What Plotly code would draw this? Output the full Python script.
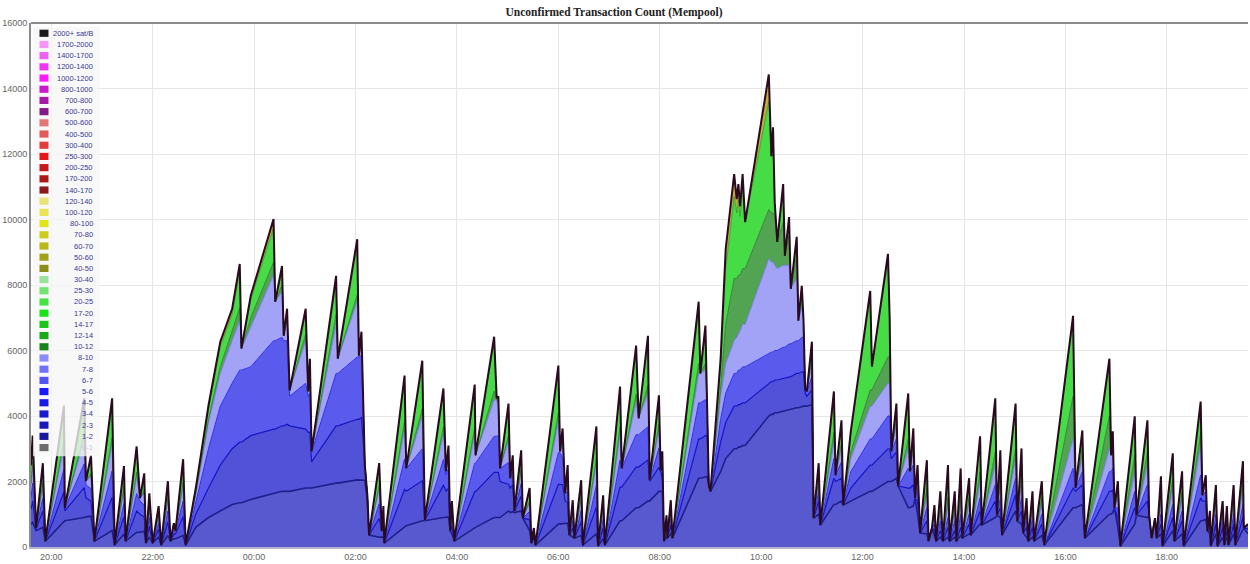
import plotly.graph_objects as go
from datetime import datetime, timedelta

# ---------------- data ----------------
# clock times of the samples (one day window, rolls over midnight)
T = [
    "19:36","19:38","19:42","19:50","19:53","20:15","20:16","20:39","20:41","20:47","20:51",
    "21:12","21:15","21:26","21:28","21:41","21:45","21:50","21:52","21:56","22:00","22:07","22:10","22:18","22:21","22:25","22:27","22:36","22:39",
    "22:51","23:06","23:20","23:34","23:43","23:45","23:56","00:23","00:25","00:33","00:35","00:39","00:42","01:01","01:04","01:06","01:08","01:37","01:39","02:02","02:04","02:07","02:11","02:14","02:16",
    "02:28","02:31","02:33","02:34","02:58","03:00","03:19","03:22","03:44","03:47","03:50","03:52","03:54","03:57",
    "04:21","04:22","04:44","04:47","04:49","04:51","05:01","05:03","05:06","05:08","05:16","05:18","05:26","05:28","05:31","05:33",
    "06:00","06:02","06:05","06:08","06:11","06:13","06:17","06:19","06:27","06:29","06:45","06:47","06:53","06:55",
    "07:13","07:15","07:32","07:35","07:46","07:48","07:59","08:01","08:03","08:05","08:08","08:09","08:13","08:15",
    "08:46","08:48","08:54","08:56","08:58","09:00","09:12","09:18","09:28","09:31","09:33","09:35","09:38","09:41","10:09","10:12","10:14","10:16","10:19","10:26","10:28","10:33","10:35","10:42","10:44","10:48","10:50","10:52","10:54","11:00","11:02",
    "11:08","11:10","11:26","11:28","11:35","11:37",
    "11:46","12:09","12:11","12:30","12:32","12:34","12:40","12:42","12:54","12:56","13:00","13:02","13:05","13:08",
    "13:16","13:18","13:22","13:25","13:27","13:32","13:35","13:41","13:43","13:49","13:51","13:56","13:58","14:06","14:08","14:19","14:21","14:37","14:39","14:43","14:45","15:01","15:03","15:08","15:10","15:14","15:16","15:21","15:23","15:32","15:35",
    "16:09","16:12","16:20","16:23","16:52","16:54","16:56","16:58","17:02","17:05",
    "17:22","17:24","17:37","17:39","17:42","17:46","17:48","17:53","17:55","18:07","18:09","18:18","18:20","18:40","18:42","18:46","18:48","18:51","18:52","18:58","19:00","19:06","19:08","19:11","19:13","19:19","19:21","19:30","19:31","19:36",
]

# cumulative transaction counts (top of each fee band)
TOTAL = [
    2500,3400,580,2560,180,4320,1190,4540,2010,2800,180,
    4540,60,2470,180,3070,1490,2250,120,1640,120,1250,60,2010,180,730,490,2680,60,
    1800,4320,6270,7275,8640,6060,7670,10015,7490,8580,6450,7275,4780,7275,4750,5750,2920,8280,5750,9400,5840,6575,2500,1580,365,
    2560,490,1250,120,5235,2400,5690,820,4840,2310,3100,490,1400,180,
    4960,2800,6420,4540,4600,2400,4380,2100,2800,1100,2950,880,1800,120,580,60,
    5540,2920,3620,1640,2500,365,1430,270,2040,60,3680,30,1580,60,
    4900,2400,6150,3930,6450,2040,4630,2340,2920,180,970,270,1430,270,
    7490,5300,6760,4320,1890,1700,5750,9100,11385,10620,11080,10410,11385,9920,14430,11930,12815,10530,9315,11080,8890,10075,7885,9470,6910,7975,6970,4840,4750,6270,880,
    2560,670,4750,2190,3870,1280,
    3530,7820,5510,8950,7000,2920,4380,1860,4690,2310,3620,1490,2500,430,
    2650,180,580,1280,180,1700,180,2500,180,1700,180,2400,270,2100,365,3380,670,4540,970,2950,365,4380,790,3010,430,1490,180,1700,180,2010,60,
    7060,1800,3560,270,5750,2800,3530,1190,2010,30,
    3990,970,3870,970,270,880,270,2160,30,2860,180,2310,30,4440,1580,2190,490,1100,30,1890,30,1400,60,1250,60,1890,60,2620,580,700,
]

# top of the 20-25 sat/B band (above it: 40-50 sat/B)
TOP = [
    2470,3350,580,2520,180,4250,1190,4450,2010,2760,180,
    4450,60,2420,180,3010,1490,2210,120,1610,120,1230,60,1970,180,730,490,2630,60,
    1780,4200,6100,7100,8400,6060,7550,9750,7490,8450,6450,7200,4780,7150,4750,5700,2920,8100,5750,9200,5840,6500,2500,1580,365,
    2510,490,1230,120,5130,2400,5580,820,4750,2310,3060,490,1380,180,
    4860,2800,6300,4540,4580,2400,4300,2100,2780,1100,2900,880,1770,120,580,60,
    5430,2920,3580,1640,2470,365,1410,270,2000,60,3610,30,1550,60,
    4800,2400,6030,3930,6330,2040,4560,2340,2900,180,960,270,1410,270,
    7250,5300,6600,4320,1890,1700,5550,8500,10700,10200,10600,10100,10900,9920,13600,11930,12500,10530,9315,10900,8890,9950,7885,9350,6910,7900,6970,4840,4750,6200,880,
    2500,670,4650,2190,3800,1280,
    3450,7650,5510,8750,7000,2920,4300,1860,4600,2310,3550,1490,2450,430,
    2600,180,580,1250,180,1680,180,2450,180,1680,180,2350,270,2050,365,3300,670,4450,970,2900,365,4300,790,2950,430,1470,180,1680,180,1980,60,
    6950,1800,3500,270,5650,2800,3480,1190,1980,30,
    3900,970,3800,970,270,880,270,2100,30,2800,180,2250,30,4350,1580,2170,490,1090,30,1850,30,1380,60,1230,60,1860,60,2580,580,700,
]

# top of the 10-12 sat/B band
G = [
    1950,2600,580,1970,180,3260,1190,3450,2010,2240,180,
    3330,60,1850,180,2280,1490,1720,120,1240,120,970,60,1510,180,730,490,1980,60,
    1650,3900,5500,6600,7300,6060,7000,8700,7490,8000,6450,7000,4780,6500,4750,5400,2920,7100,5750,7700,5840,6300,2500,1580,365,
    1880,490,970,120,3840,2400,4220,820,3660,2310,2800,490,1100,180,
    3650,2800,4760,4540,4400,2400,3400,2100,2620,1100,2400,880,1410,120,580,60,
    4090,2920,3250,1640,2100,365,1090,270,1530,60,2700,30,1180,60,
    3670,2400,4670,3930,4940,2040,3750,2340,2720,180,770,270,1120,270,
    5600,5300,5600,4320,1890,1700,4900,6800,8200,8200,8300,8300,8500,8500,10300,10200,10200,10100,9315,9900,8890,9500,7885,8900,6910,7700,6970,4840,4750,5800,880,
    2100,670,3500,2190,3200,1280,
    2900,4800,4800,5800,5800,2920,3900,1860,3300,2310,3100,1490,2250,430,
    1800,180,580,1000,180,1200,180,1500,180,1200,180,1600,270,1500,365,2300,670,2900,970,2100,365,3000,790,2200,430,1200,180,1300,180,1500,60,
    4600,1800,3000,270,4000,2800,3200,1190,1700,30,
    2800,970,2900,970,270,880,270,1600,30,2100,180,1700,30,3500,1580,2100,490,1050,30,1500,30,1200,60,1100,60,1500,60,2100,580,700,
]

# top of the 8-10 sat/B band
LB = [
    1850,2450,580,1870,180,3090,1190,3270,2010,2150,180,
    3130,60,1750,180,2150,1490,1630,120,1170,120,920,60,1430,180,730,490,1860,60,
    1600,3800,5300,6300,6900,6060,6700,8300,7490,7800,6450,6900,4780,6300,4750,5300,2920,6800,5750,7500,5840,6200,2500,1580,365,
    1770,490,920,120,3610,2400,3980,820,3460,2310,2700,490,1050,180,
    3430,2800,4490,4490,4300,2400,3230,2100,2550,1100,2300,880,1350,120,580,60,
    3850,2920,3100,1640,2000,365,1030,270,1450,60,2530,30,1110,60,
    3470,2400,4420,3930,4680,2040,3600,2340,2650,180,740,270,1070,270,
    5300,5300,5400,4320,1890,1700,4600,5600,6300,6400,6500,6600,6800,6800,8800,8700,8700,8600,8500,8600,8600,8600,7885,8200,6910,7300,6970,4840,4750,5600,880,
    2000,670,3200,2190,3000,1280,
    2700,4300,4300,5000,5000,2920,3700,1860,3000,2310,2900,1490,2100,430,
    1600,180,580,900,180,1100,180,1300,180,1100,180,1400,270,1300,365,2000,670,2500,970,1900,365,2700,790,2000,430,1100,180,1200,180,1300,60,
    3300,1800,2700,270,3000,2800,2900,1190,1500,30,
    2300,970,2500,970,270,880,270,1400,30,1800,180,1500,30,3100,1580,2000,490,1000,30,1300,30,1100,60,1000,60,1300,60,1800,580,700,
]

# top of the 7-8 sat/B band
M2 = [
    1500,1950,580,1480,180,2380,1190,2540,1900,1780,180,
    2320,60,1330,180,1630,1400,1280,120,900,120,730,60,1100,180,600,490,1400,60,
    1350,3000,4300,5000,5400,5400,5500,6300,6300,6400,6300,6300,4600,5000,4600,4700,2900,5300,5300,5800,5800,5850,2500,1580,365,
    1320,490,730,120,2690,2400,3000,820,2670,2200,2400,490,850,180,
    2560,2560,3380,3380,3400,2400,2580,2100,2300,1100,1930,880,1090,120,580,60,
    2880,2880,2700,1640,1700,365,810,270,1110,60,1880,30,850,60,
    2650,2400,3430,3430,3670,2040,3020,2340,2400,180,600,270,860,270,
    4400,4400,4500,4320,1890,1700,3900,4700,5300,5300,5400,5400,5500,5500,5900,5950,5950,6000,6000,6100,6100,6200,6200,6300,6300,6400,6400,4840,4750,5200,880,
    1700,670,2700,2190,2600,1280,
    2300,3300,3300,4000,4000,2920,3300,1860,2400,2310,2500,1490,1800,430,
    1200,180,580,700,180,800,180,900,180,800,180,1000,270,1000,365,1500,670,1900,970,1500,365,2100,790,1500,430,900,180,900,180,1000,60,
    2400,1800,2300,270,2300,2300,2400,1190,1200,30,
    1700,970,1900,970,270,880,270,1000,30,1300,180,1100,30,2200,1580,1700,490,900,30,1000,30,900,60,800,60,1000,60,1300,580,650,
]

# top of the 3-4 sat/B band
M1 = [
    1150,1400,560,1100,180,1680,1100,1810,1500,1400,180,
    1510,60,920,180,1100,1000,920,120,640,120,540,60,770,180,400,400,930,60,
    1000,1800,2500,3000,3200,3200,3400,3600,3600,3700,3700,3750,3700,3600,3500,3500,2600,3700,3700,3900,3900,3950,2400,1500,365,
    870,490,540,120,1760,1700,2020,820,1890,1700,1800,490,650,180,
    1690,1690,2280,2280,2280,2000,1920,1800,1900,1100,1560,880,830,120,450,60,
    1910,1910,1900,1400,1350,365,580,270,770,60,1220,30,580,60,
    1830,1830,2440,2440,2660,2000,2430,2300,2100,180,470,270,660,270,
    3300,3300,3400,3400,1890,1700,3200,3800,4300,4300,4350,4350,4400,4400,5000,5050,5050,5100,5100,5150,5150,5200,5200,5300,5300,5350,5350,4700,4600,4800,880,
    1400,670,2100,2000,2100,1280,
    1800,2500,2500,3000,3000,2700,2900,1860,1800,1800,1900,1490,1400,430,
    800,180,580,500,180,500,180,600,180,500,180,600,270,700,365,1100,670,1400,970,1200,365,1600,790,1100,430,600,180,600,180,700,60,
    1800,1700,1900,270,1700,1700,1750,1190,900,30,
    1200,970,1400,970,270,880,270,700,30,900,180,800,30,1500,1400,1400,490,700,30,700,30,600,60,500,60,700,60,900,580,550,
]

# top of the 1-2 sat/B band
BASE = [
    700,750,500,600,180,800,800,900,920,940,180,
    500,60,400,180,450,450,480,120,300,120,300,60,350,180,250,250,350,60,
    600,900,1100,1300,1350,1350,1450,1650,1650,1700,1700,1700,1700,1800,1800,1800,1800,1950,1950,2050,2050,2060,2040,1400,365,
    300,300,300,120,600,650,800,800,900,900,920,490,400,180,
    600,600,900,900,900,900,1100,1050,1080,1050,1100,880,500,120,300,60,
    700,700,720,720,730,365,300,270,350,60,400,30,250,60,
    800,800,1200,1200,1400,1400,1700,1700,1700,180,300,270,400,270,
    2100,2100,2150,2150,1890,1700,2300,2700,3000,3000,3050,3050,3100,3100,4000,4050,4050,4100,4100,4150,4150,4200,4200,4250,4250,4300,4300,4300,4300,4350,880,
    1000,670,1300,1300,1400,1280,
    1400,1700,1700,2000,2000,2000,2100,1860,1200,1200,1250,1490,1000,430,
    400,180,580,300,180,300,180,300,180,300,180,350,270,400,365,700,670,900,970,900,365,1100,790,700,430,300,180,300,180,350,60,
    1200,1200,1300,270,1000,1000,1050,1190,600,30,
    700,970,900,970,270,880,270,400,30,500,180,400,30,800,800,850,490,400,30,400,30,300,60,300,60,400,60,500,580,400,
]

LEG_LABELS = ["2000+ sat/B","1700-2000","1400-1700","1200-1400","1000-1200","800-1000",
              "700-800","600-700","500-600","400-500","300-400","250-300","200-250",
              "170-200","140-170","120-140","100-120","80-100","70-80","60-70","50-60",
              "40-50","30-40","25-30","20-25","17-20","14-17","12-14","10-12","8-10",
              "7-8","6-7","5-6","4-5","3-4","2-3","1-2","0-1"]
LEG_COLORS = ["#000000","#f58cf5","#f050f0","#f020f0","#ff00ff","#c800c8",
              "#a000a0","#780078","#e06868","#e04848","#e02828","#e00000","#c00000",
              "#a00000","#800000","#e8e068","#e8e040","#e0e000","#c8c800","#b0b000","#989800",
              "#808000","#90e090","#60e060","#30e030","#00e000","#00c000","#00a000","#007800","#8080ff",
              "#6060ff","#4040f0","#0000ff","#0000e0","#0000c8","#0000b0","#000090","#555555"]

# ---------------- build figure ----------------
n = len(T)
for arr in (TOTAL, TOP, G, LB, M2, M1, BASE):
    assert len(arr) == n, len(arr)


def to_datetimes(hhmm, start="2017-12-07"):
    day = datetime.strptime(start, "%Y-%m-%d")
    out, prev = [], -1
    for s in hhmm:
        h, m = map(int, s.split(":"))
        mins = h * 60 + m
        if mins < prev:
            day += timedelta(days=1)
        prev = mins
        out.append(day + timedelta(minutes=mins))
    return out


X = to_datetimes(T)
x0 = datetime(2017, 12, 7, 19, 36)
x1 = datetime(2017, 12, 8, 19, 36)

layers = [
    # name, values, fill colour, line colour, line width
    ("1-2", BASE, "#5959cf", "#1e1e8c", 1.6),
    ("3-4", M1, "#5252d8", "#1414c4", 1.2),
    ("7-8", M2, "#5a5aec", "#2c2cf2", 1.0),
    ("8-10", LB, "#a2a2f6", "#7474f4", 0.8),
    ("10-12", G, "#52a452", "#2e702e", 0.8),
    ("20-25", TOP, "#46dc46", "#2c9a2c", 0.8),
    ("40-50", TOTAL, "#c8a838", "#2a0a1e", 2.0),
]

fig = go.Figure()
for i, (name, vals, fc, lc, lw) in enumerate(layers):
    fig.add_trace(go.Scatter(
        x=X, y=vals, name=name, mode="lines",
        fill="tozeroy" if i == 0 else "tonexty",
        fillcolor=fc, line=dict(color=lc, width=lw),
        hoverinfo="skip", showlegend=False,
    ))

# plot area in pixels
PL, PR, PT, PB = 30, 1248, 23, 549


def px_x(x):
    return (x - PL) / (PR - PL)


def px_y(y):
    return (PB - y) / (PB - PT)


shapes = []
annotations = []
# legend background
shapes.append(dict(type="rect", xref="paper", yref="paper", layer="above",
                   x0=px_x(32), x1=px_x(99), y0=px_y(458), y1=px_y(27),
                   fillcolor="rgba(246,246,246,0.78)", line=dict(width=0)))
for i, (lab, col) in enumerate(zip(LEG_LABELS, LEG_COLORS)):
    yc = 33.3 + i * 11.24
    hidden = lab == "0-1"
    shapes.append(dict(type="rect", xref="paper", yref="paper", layer="above",
                       x0=px_x(38.5), x1=px_x(47.5), y0=px_y(yc + 3.6), y1=px_y(yc - 3.6),
                       fillcolor=col, line=dict(width=0),
                       opacity=0.9 if not hidden else 0.85))
    annotations.append(dict(xref="paper", yref="paper", x=px_x(94), y=px_y(yc),
                            text=lab, showarrow=False, xanchor="right", yanchor="middle",
                            font=dict(family="Liberation Sans, Arial", size=7.5,
                                      color="#c4c4d4" if hidden else "#3a3a92")))
# heavy top border
shapes.append(dict(type="line", xref="paper", yref="paper", layer="above",
                   x0=0, x1=1, y0=1, y1=1, line=dict(color="#8c8c8c", width=2)))

fig.update_layout(
    width=1250, height=564,
    margin=dict(l=PL, r=1250 - PR, t=PT, b=564 - PB),
    paper_bgcolor="white", plot_bgcolor="white",
    hovermode=False,
    title=dict(text="<b>Unconfirmed Transaction Count (Mempool)</b>",
               x=614 / 1250, xref="container", xanchor="center",
               y=1 - 12 / 564, yref="container", yanchor="middle",
               font=dict(family="Liberation Serif, Times New Roman", size=11.5, color="#222222")),
    shapes=shapes, annotations=annotations,
    xaxis=dict(type="date", range=[x0, x1], tickformat="%H:%M",
               dtick=2 * 3600 * 1000, tick0=datetime(2017, 12, 7, 20, 0),
               showgrid=True, gridcolor="#e6e6e6", gridwidth=1,
               showline=True, linecolor="#b6b6ca", linewidth=2,
               ticks="", zeroline=False,
               tickfont=dict(family="Liberation Sans, Arial", size=9, color="#666666")),
    yaxis=dict(range=[0, 16000], dtick=2000, tickformat="d", showgrid=True, gridcolor="#e6e6e6",
               showline=True, linecolor="#8c8c8c", linewidth=2, ticks="",
               zeroline=False,
               tickfont=dict(family="Liberation Sans, Arial", size=9, color="#666666")),
)

fig.write_html("out.html",
               config={"displayModeBar": False},
               post_script="document.body.style.margin='0';document.body.style.overflow='hidden';")
